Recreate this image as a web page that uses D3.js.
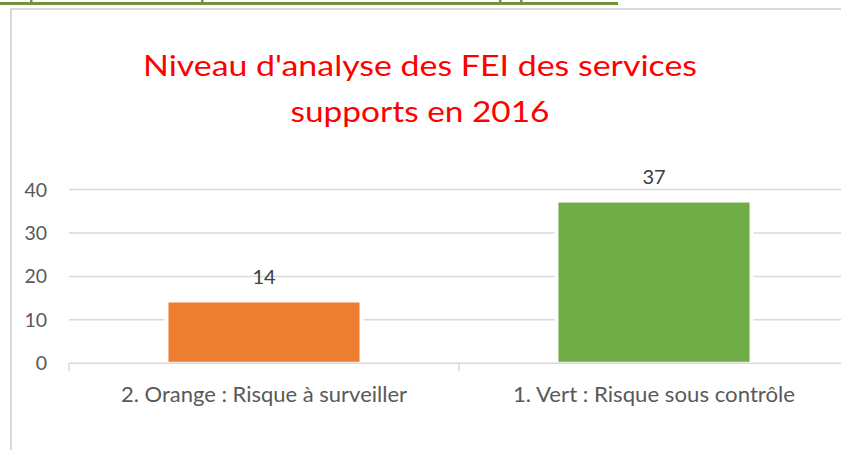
<!DOCTYPE html>
<html>
<head>
<meta charset="utf-8">
<script src="https://cdn.jsdelivr.net/npm/d3@7"></script>
<style>
  html, body { margin: 0; padding: 0; background: #ffffff; }
  svg { display: block; }
  text { font-family: Lato, "Open Sans", "DejaVu Sans", sans-serif; }
</style>
</head>
<body>
<script>
// Chart data
const categories = ["2. Orange : Risque à surveiller", "1. Vert : Risque sous contrôle"];
const counts = [14, 37];
const barColors = ["#ed7d31", "#70ad47"];
const yTicks = [0, 10, 20, 30, 40];
const titleLines = ["Niveau d'analyse des FEI des services", "supports en 2016"];

const W = 841, H = 450;
const svg = d3.select("body").append("svg")
  .attr("width", W).attr("height", H);

// Heading rule above the chart frame, with a few cut-off glyph stubs
svg.append("rect").attr("x", 0).attr("y", 2).attr("width", 618).attr("height", 3)
  .attr("fill", "#76923c");
[30, 201, 499, 520].forEach(x => {
  svg.append("rect").attr("x", x).attr("y", 0).attr("width", 2.5).attr("height", 2.5)
    .attr("fill", "#76923c");
});

// Chart frame
svg.append("rect").attr("x", 11).attr("y", 9).attr("width", 900).attr("height", 500)
  .attr("fill", "none").attr("stroke", "#d9d9d9").attr("stroke-width", 2);

// Title
const titleWidths = [554, 259];
const titleBaselines = [76, 121.5];
titleLines.forEach((t, i) => {
  svg.append("text")
    .attr("x", 420).attr("y", titleBaselines[i])
    .attr("text-anchor", "middle")
    .attr("font-size", 29.5)
    .attr("fill", "#ff0000")
    .attr("textLength", titleWidths[i])
    .attr("lengthAdjust", "spacingAndGlyphs")
    .text(t);
});

// Scales
const x = d3.scaleBand().domain(categories).range([69, 849])
  .paddingInner(0.51).paddingOuter(0.255);
const y = d3.scaleLinear().domain([0, 40]).range([363.3, 189.5]);

// Gridlines
svg.append("g").selectAll("line").data(yTicks.filter(d => d > 0)).join("line")
  .attr("x1", 69).attr("x2", 849)
  .attr("y1", d => y(d)).attr("y2", d => y(d))
  .attr("stroke", "#d9d9d9").attr("stroke-width", 1.5);

// Y axis labels
svg.append("g").selectAll("text").data(yTicks).join("text")
  .attr("x", 47).attr("y", d => y(d))
  .attr("dy", "0.36em")
  .attr("text-anchor", "end")
  .attr("font-size", 19.5)
  .attr("fill", "#595959")
  .text(d => d);

// Bars with white outline
const bars = svg.append("g");
bars.selectAll("rect.edge").data(categories).join("rect")
  .attr("class", "edge")
  .attr("x", d => x(d) - 4)
  .attr("width", x.bandwidth() + 8)
  .attr("y", (d, i) => y(counts[i]) - 3)
  .attr("height", (d, i) => y(0) - y(counts[i]) + 3)
  .attr("fill", "#ffffff");
bars.selectAll("rect.bar").data(categories).join("rect")
  .attr("class", "bar")
  .attr("x", d => x(d))
  .attr("width", x.bandwidth())
  .attr("y", (d, i) => y(counts[i]))
  .attr("height", (d, i) => y(0) - y(counts[i]) - 1.5)
  .attr("fill", (d, i) => barColors[i]);

// Value labels
svg.append("g").selectAll("text").data(categories).join("text")
  .attr("x", d => x(d) + x.bandwidth() / 2)
  .attr("y", (d, i) => y(counts[i]) - 18.5)
  .attr("text-anchor", "middle")
  .attr("font-size", 20)
  .attr("fill", "#404040")
  .text((d, i) => counts[i]);

// X axis line and ticks at category boundaries
svg.append("line")
  .attr("x1", 69).attr("x2", 849)
  .attr("y1", y(0)).attr("y2", y(0))
  .attr("stroke", "#d9d9d9").attr("stroke-width", 1.5);
const step = x.step();
svg.append("g").selectAll("line").data(d3.range(categories.length + 1)).join("line")
  .attr("x1", i => 69 + i * step).attr("x2", i => 69 + i * step)
  .attr("y1", y(0)).attr("y2", y(0) + 8)
  .attr("stroke", "#d9d9d9").attr("stroke-width", 1.5);

// Category labels
const catWidths = [286, 282];
svg.append("g").selectAll("text").data(categories).join("text")
  .attr("x", d => x(d) + x.bandwidth() / 2)
  .attr("y", 401.5)
  .attr("text-anchor", "middle")
  .attr("font-size", 21.5)
  .attr("fill", "#595959")
  .attr("textLength", (d, i) => catWidths[i])
  .attr("lengthAdjust", "spacingAndGlyphs")
  .text(d => d);
</script>
</body>
</html>
